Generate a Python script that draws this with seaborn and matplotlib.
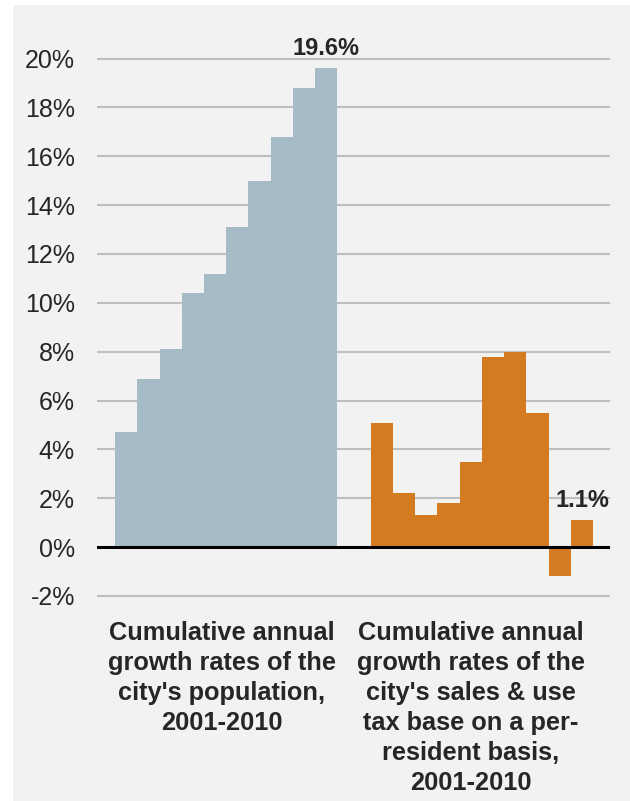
import numpy as np
import pandas as pd
import seaborn as sns
import matplotlib.pyplot as plt
from matplotlib.patches import Rectangle

# values (percent)
population = [4.7, 6.9, 8.1, 10.4, 11.2, 13.1, 15.0, 16.8, 18.8, 19.6]
sales_tax = [5.1, 2.2, 1.3, 1.8, 3.5, 7.8, 8.0, 5.5, -1.2, 1.1]
group_labels = ["Cumulative annual\ngrowth rates of the\ncity's population,\n2001-2010",
                "Cumulative annual\ngrowth rates of the\ncity's sales & use\ntax base on a per-\nresident basis,\n2001-2010"]
y_ticks = [-2, 0, 2, 4, 6, 8, 10, 12, 14, 16, 18, 20]
colors = ["#A7BBC7", "#D47A21"]

sns.set_style("white")
plt.rcParams['font.family'] = ['Liberation Sans', 'DejaVu Sans']

# bars sit side by side, second group after a gap of 1.5 bar widths
gap = 1.5
n = len(population)
pos1 = np.arange(n, dtype=float)
pos2 = np.arange(n) + n + gap
df = pd.DataFrame({
    'pos': np.concatenate([pos1, pos2]),
    'val': population + sales_tax,
    'grp': ['pop'] * n + ['tax'] * n,
})

fig = plt.figure(figsize=(6.3, 8.01), dpi=100)
fig.patch.set_facecolor('#F2F2F2')
# thin white strips on the left and top edges
fig.patches.append(Rectangle((0, 0), 13 / 630, 1, transform=fig.transFigure,
                             facecolor='white', edgecolor='none', zorder=-10))
fig.patches.append(Rectangle((0, 1 - 5 / 801), 1, 5 / 801, transform=fig.transFigure,
                             facecolor='white', edgecolor='none', zorder=-10))
ax = fig.add_axes([0.154, 0.2529, 0.8143, 0.6771])
ax.patch.set_alpha(0)

sns.barplot(data=df, x='pos', y='val', hue='grp', palette=colors, native_scale=True,
            dodge=False, width=1, saturation=1, legend=False, ax=ax, linewidth=0, errorbar=None)

ax.set_xlim(-1.31, pos2[-1] + 0.5 + 0.76)
ax.set_ylim(-2.1, 20.1)
ax.set_yticks(y_ticks)
ax.set_yticklabels([f"{t}%" for t in y_ticks], fontsize=18)
ax.yaxis.grid(True, color='#BFBFBF', lw=1.5)
ax.set_axisbelow(True)
ax.tick_params(axis='y', length=0, pad=16)
ax.axhline(0, color='black', lw=2.2, zorder=5)

ax.set_xticks([pos1.mean() - 0.2, pos2.mean() - 0.5])
ax.set_xticklabels(group_labels, fontsize=18.3, fontweight='bold', linespacing=1.32, va='top')
ax.tick_params(axis='x', length=0, pad=16)
ax.set_xlabel('')
ax.set_ylabel('')
sns.despine(ax=ax, left=True, bottom=True)

for p, v in [(pos1[-1], population[-1]), (pos2[-1], sales_tax[-1])]:
    ax.annotate(f"{v}%", (p, v), xytext=(0, 6), textcoords='offset points',
                ha='center', va='bottom', fontsize=17, fontweight='bold', annotation_clip=False)

fig.savefig('out.png', dpi=100, facecolor=fig.get_facecolor())
